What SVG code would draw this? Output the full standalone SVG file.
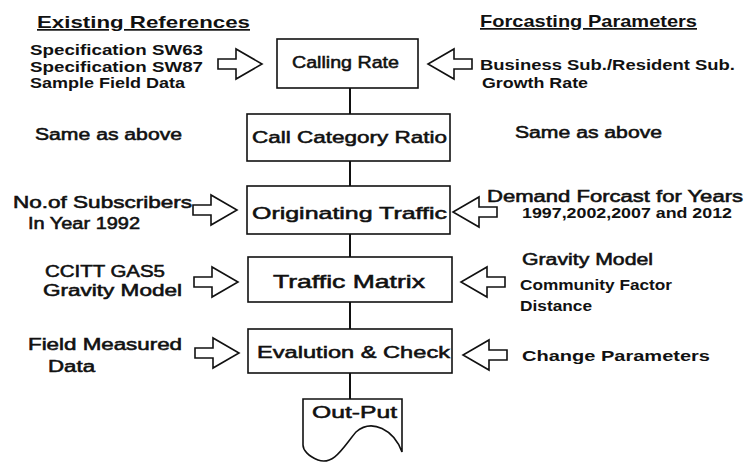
<svg xmlns="http://www.w3.org/2000/svg" width="745" height="464" viewBox="0 0 745 464">
  <style>
    text { font-family: "Liberation Sans", Arial, sans-serif; fill: #111; }
    .hd { font-size: 17px; font-weight: bold; text-decoration: underline; }
    .sm { font-size: 15px; font-weight: bold; }
    .md { font-size: 16px; stroke: #111; stroke-width: 0.55; }
    .bx { font-size: 17px; stroke: #111; stroke-width: 0.55; }
    .box { fill: #fff; stroke: #111; stroke-width: 1.6; }
    .link { stroke: #111; stroke-width: 2; fill: none; }
    .blk { fill: #fff; stroke: #111; stroke-width: 1.6; stroke-linejoin: miter; }
  </style>
  <defs>
    <!-- hollow block arrow, tail at x=0, tip at x=44 -->
    <path id="blockArrow" class="blk" d="M0,-5 H18 V-15 L44,0 L18,15 V5 H0 Z"/>
  </defs>

  <rect width="745" height="464" fill="#fff"/>

  <!-- column headings -->
  <text class="hd" x="37" y="28" textLength="213" lengthAdjust="spacingAndGlyphs">Existing References</text>
  <text class="hd" x="480" y="27" textLength="217" lengthAdjust="spacingAndGlyphs">Forcasting Parameters</text>

  <!-- connectors -->
  <g id="connectors">
    <line class="link" x1="350" y1="88" x2="350" y2="114"/>
    <line class="link" x1="350" y1="161" x2="350" y2="186"/>
    <line class="link" x1="350" y1="234" x2="350" y2="257"/>
    <line class="link" x1="350" y1="302" x2="350" y2="329"/>
    <line class="link" x1="350" y1="373" x2="350" y2="399"/>
    <!-- inputs from the left -->
    <use href="#blockArrow" transform="translate(218,64)"/>
    <use href="#blockArrow" transform="translate(193,210)"/>
    <use href="#blockArrow" transform="translate(194,282)"/>
    <use href="#blockArrow" transform="translate(195,353)"/>
    <!-- inputs from the right -->
    <use href="#blockArrow" transform="translate(472,64) scale(-1,1)"/>
    <use href="#blockArrow" transform="translate(497,212) scale(-1,1)"/>
    <use href="#blockArrow" transform="translate(505,282) scale(-1,1)"/>
    <use href="#blockArrow" transform="translate(507,355) scale(-1,1)"/>
  </g>

  <!-- step 1 -->
  <g id="calling-rate">
    <rect class="box" x="277" y="39" width="141" height="49"/>
    <text class="bx" x="292" y="68" textLength="107" lengthAdjust="spacingAndGlyphs">Calling Rate</text>
  </g>
  <g id="calling-rate-refs">
    <text class="sm" x="30" y="55" textLength="173" lengthAdjust="spacingAndGlyphs">Specification SW63</text>
    <text class="sm" x="30" y="72" textLength="173" lengthAdjust="spacingAndGlyphs">Specification SW87</text>
    <text class="sm" x="30" y="88" textLength="155" lengthAdjust="spacingAndGlyphs">Sample Field Data</text>
  </g>
  <g id="calling-rate-params">
    <text class="sm" x="480" y="70" textLength="255" lengthAdjust="spacingAndGlyphs">Business Sub./Resident Sub.</text>
    <text class="sm" x="482" y="88" textLength="106" lengthAdjust="spacingAndGlyphs">Growth Rate</text>
  </g>

  <!-- step 2 -->
  <g id="call-category-ratio">
    <rect class="box" x="247" y="114" width="203" height="47"/>
    <text class="bx" x="252" y="143" textLength="195" lengthAdjust="spacingAndGlyphs">Call Category Ratio</text>
  </g>
  <g id="ratio-refs">
    <text class="md" x="35" y="140" textLength="147" lengthAdjust="spacingAndGlyphs">Same as above</text>
  </g>
  <g id="ratio-params">
    <text class="md" x="515" y="138" textLength="147" lengthAdjust="spacingAndGlyphs">Same as above</text>
  </g>

  <!-- step 3 -->
  <g id="originating-traffic">
    <rect class="box" x="247" y="186" width="203" height="48"/>
    <text class="bx" x="252" y="219" textLength="195" lengthAdjust="spacingAndGlyphs">Originating Traffic</text>
  </g>
  <g id="traffic-refs">
    <text class="md" x="13" y="208" textLength="179" lengthAdjust="spacingAndGlyphs">No.of Subscribers</text>
    <text class="md" x="28" y="229" textLength="112" lengthAdjust="spacingAndGlyphs">In Year 1992</text>
  </g>
  <g id="traffic-params">
    <text class="md" x="487" y="202" textLength="256" lengthAdjust="spacingAndGlyphs">Demand Forcast for Years</text>
    <text class="sm" x="522" y="218" textLength="210" lengthAdjust="spacingAndGlyphs">1997,2002,2007 and 2012</text>
  </g>

  <!-- step 4 -->
  <g id="traffic-matrix">
    <rect class="box" x="248" y="257" width="204" height="45"/>
    <text class="bx" x="273" y="288" textLength="152" lengthAdjust="spacingAndGlyphs" style="font-size:19px">Traffic Matrix</text>
  </g>
  <g id="matrix-refs">
    <text class="md" x="45" y="277" textLength="120" lengthAdjust="spacingAndGlyphs">CCITT GAS5</text>
    <text class="md" x="43" y="296" textLength="139" lengthAdjust="spacingAndGlyphs">Gravity Model</text>
  </g>
  <g id="matrix-params">
    <text class="md" x="522" y="265" textLength="131" lengthAdjust="spacingAndGlyphs">Gravity Model</text>
    <text class="sm" x="520" y="290" textLength="152" lengthAdjust="spacingAndGlyphs">Community Factor</text>
    <text class="sm" x="520" y="311" textLength="72" lengthAdjust="spacingAndGlyphs">Distance</text>
  </g>

  <!-- step 5 -->
  <g id="evaluation-check">
    <rect class="box" x="248" y="329" width="204" height="44"/>
    <text class="bx" x="257" y="358" textLength="193" lengthAdjust="spacingAndGlyphs">Evalution &amp; Check</text>
  </g>
  <g id="check-refs">
    <text class="md" x="28" y="350" textLength="154" lengthAdjust="spacingAndGlyphs">Field Measured</text>
    <text class="md" x="48" y="372" textLength="47" lengthAdjust="spacingAndGlyphs">Data</text>
  </g>
  <g id="check-params">
    <text class="sm" x="522" y="361" textLength="188" lengthAdjust="spacingAndGlyphs">Change Parameters</text>
  </g>

  <!-- output document -->
  <g id="out-put">
    <path class="box" d="M303,399 H402 V452 C394,430 372,418 356,432 C344,446 334,466 318,460 C308,456 303,450 303,445 Z"/>
    <text class="bx" x="312" y="418" textLength="85" lengthAdjust="spacingAndGlyphs">Out-Put</text>
  </g>
</svg>
